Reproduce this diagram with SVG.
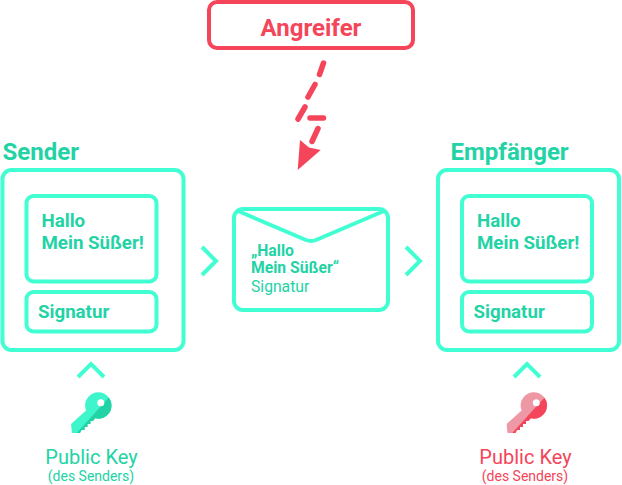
<svg xmlns="http://www.w3.org/2000/svg" width="622" height="485" viewBox="0 0 622 485">
<style>
text{font-family:Roboto,"Liberation Sans",sans-serif}
.b{fill:#fff;stroke:#41ffd2;stroke-width:4}
.c{fill:none;stroke:#41ffd2;stroke-width:4}
.g{fill:#22d3a5}
.r{fill:#f4455a}
.m{font-weight:700;font-size:18.700px}
.h{font-weight:700;font-size:24px}
.k{font-size:20px;text-anchor:middle}
.s{font-size:14px;text-anchor:middle}
.d{fill:none;stroke:#f4455a;stroke-width:5.500;stroke-linecap:round}
</style>
<defs>
<clipPath id="kc">
<circle cx="98.300" cy="405.500" r="13.200"/>
<polygon points="71,424 89,408 97,416 93,421 90.500,421 90.500,424 87.500,424 87.500,427 84.500,427 84.500,430 81.500,430 80,433 72,433"/>
</clipPath>
</defs>
<rect width="622" height="485" fill="#fff"/>
<g id="attacker">
<rect x="209" y="2" width="204" height="46" rx="8" fill="#fff" stroke="#f4455a" stroke-width="4"/>
<text x="311" y="35.500" class="h r" text-anchor="middle">Angreifer</text>
</g>
<g id="sender">
<text x="2.500" y="160" class="h g">Sender</text>
<rect class="b" x="2.500" y="170" width="181" height="180" rx="9"/>
<rect class="b" x="26.500" y="196" width="130" height="85.500" rx="7"/>
<rect class="b" x="26.500" y="292" width="130" height="39.500" rx="7"/>
<text class="m g" x="41.500" y="226.500">Hallo</text>
<text class="m g" x="41.500" y="249">Mein Süßer!</text>
<text class="m g" x="38" y="317.500">Signatur</text>
</g>
<g id="message">
<rect class="b" x="234" y="209" width="154" height="101" rx="9"/>
<path class="c" d="M238 211L306 240Q311 242 316 240L384 211"/>
<text x="251" y="256" font-size="15.700" font-weight="700" class="g">„Hallo</text>
<text x="251" y="273" font-size="15.700" font-weight="700" class="g">Mein Süßer“</text>
<text x="251" y="292" font-size="15.700" class="g">Signatur</text>
</g>
<g id="receiver">
<text x="450.500" y="160" class="h g">Empfänger</text>
<rect class="b" x="438" y="170" width="181" height="180" rx="9"/>
<rect class="b" x="462" y="196" width="130" height="85.500" rx="7"/>
<rect class="b" x="462" y="292" width="130" height="39.500" rx="7"/>
<text class="m g" x="477" y="226.500">Hallo</text>
<text class="m g" x="477" y="249">Mein Süßer!</text>
<text class="m g" x="473.500" y="317.500">Signatur</text>
</g>
<g id="key-sender">
<g clip-path="url(#kc)"><rect x="65" y="388" width="52" height="50" fill="#3ff5cb"/><path d="M113 393L74 436L120 436Z" fill="#22d3a5"/></g>
<circle cx="100.800" cy="402.700" r="3.500" fill="#fff"/>
<text class="k g" x="91.500" y="463.500">Public Key</text>
<text class="s g" x="91" y="481">(des Senders)</text>
</g>
<g id="key-receiver">
<g transform="translate(435.500 0)">
<g clip-path="url(#kc)"><rect x="65" y="388" width="52" height="50" fill="#ee97a5"/><path d="M113 393L74 436L120 436Z" fill="#f4455a"/></g>
<circle cx="100.800" cy="402.700" r="3.500" fill="#fff"/>
</g>
<text class="k r" x="525.500" y="463.500">Public Key</text>
<text class="s r" x="525" y="481">(des Senders)</text>
</g>
<g id="connectors">
<path class="c" d="M202 247L216 261L202 275"/>
<path class="c" d="M406 247L420 261L406 275"/>
<path class="c" d="M78 377L91 364L104 377"/>
<path class="c" d="M514 377L527 364L540 377"/>
<path class="d" d="M323.500 63L319.500 74.500M315 84.500L308 97M305 107L298 119M310 118H323.500M318 128.500L312 141.500"/>
<path class="r" d="M300 140L309 147.500L320.700 150L297.700 170Z"/>
</g>
</svg>
